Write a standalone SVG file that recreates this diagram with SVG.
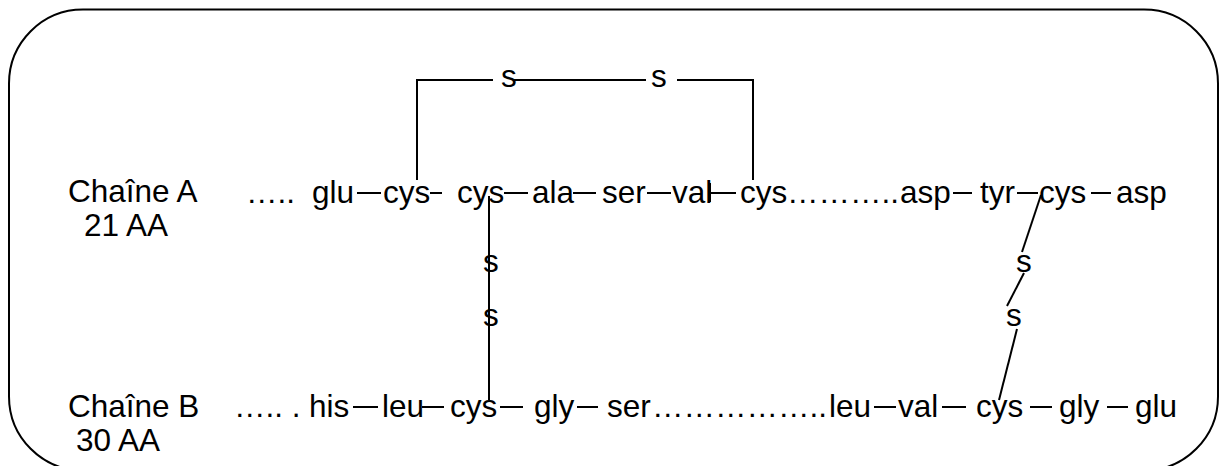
<svg xmlns="http://www.w3.org/2000/svg" width="1221" height="466" viewBox="0 0 1221 466">
  <style>
    text { font-family: "Liberation Sans", Arial, sans-serif; font-size: 31.5px; fill: #000; }
    .frame { fill: #fff; stroke: #000; stroke-width: 2; }
    .bond { stroke: #000; stroke-width: 2; fill: none; }
  </style>
  <rect width="1221" height="466" fill="#fff"/>
  <!-- rounded frame, bottom edge runs past the canvas -->
  <rect class="frame" x="9" y="9.5" width="1209" height="461" rx="74" ry="74"/>

  <!-- chain labels -->
  <g id="label-a"><text x="68" y="202">Chaîne A<tspan x="84" dy="33.5">21 AA</tspan></text></g>
  <g id="label-b"><text x="68" y="417">Chaîne B<tspan x="76" dy="33.5">30 AA</tspan></text></g>

  <!-- chain A residues -->
  <g id="a-start"><text x="246" y="203">…..</text></g>
  <g id="a-glu"><text x="312" y="203">glu</text></g>
  <g id="a-cys1"><text x="383" y="203">cys</text></g>
  <g id="a-cys2"><text x="457" y="203">cys</text></g>
  <g id="a-ala"><text x="532" y="203">ala</text></g>
  <g id="a-ser"><text x="602" y="203">ser</text></g>
  <g id="a-val"><text x="672" y="203">val</text></g>
  <g id="a-cys3"><text x="740" y="203">cys</text></g>
  <g id="a-gap"><text x="787" y="203">………..</text></g>
  <g id="a-asp1"><text x="900" y="203">asp</text></g>
  <g id="a-tyr"><text x="980" y="203">tyr</text></g>
  <g id="a-cys4"><text x="1039" y="203">cys</text></g>
  <g id="a-asp2"><text x="1116" y="203">asp</text></g>

  <!-- chain B residues -->
  <g id="b-start"><text x="234" y="417">….. .</text></g>
  <g id="b-his"><text x="309" y="417">his</text></g>
  <g id="b-leu1"><text x="382" y="417">leu</text></g>
  <g id="b-cys1"><text x="450" y="417">cys</text></g>
  <g id="b-gly1"><text x="534" y="417">gly</text></g>
  <g id="b-ser"><text x="607" y="417">ser</text></g>
  <g id="b-gap"><text x="652" y="417">……………..</text></g>
  <g id="b-leu2"><text x="829" y="417">leu</text></g>
  <g id="b-val"><text x="898" y="417">val</text></g>
  <g id="b-cys2"><text x="976" y="417">cys</text></g>
  <g id="b-gly2"><text x="1059" y="417">gly</text></g>
  <g id="b-glu"><text x="1135" y="417">glu</text></g>

  <!-- sulfur atoms of the disulfide bridges -->
  <g id="s-top1"><text x="501" y="87">s</text></g>
  <g id="s-top2"><text x="651" y="87">s</text></g>
  <g id="s-mid1"><text x="483" y="272">s</text></g>
  <g id="s-mid2"><text x="483" y="326">s</text></g>
  <g id="s-right1"><text x="1016" y="272">s</text></g>
  <g id="s-right2"><text x="1006" y="326">s</text></g>

  <g id="connectors" class="bond">
    <!-- peptide bonds, chain A -->
    <line x1="357" y1="193" x2="381" y2="193"/>
    <line x1="430" y1="193" x2="442" y2="193"/>
    <line x1="504" y1="193" x2="528" y2="193"/>
    <line x1="573" y1="193" x2="596" y2="193"/>
    <line x1="647" y1="193" x2="671" y2="193"/>
    <line x1="710" y1="183" x2="710" y2="202"/>
    <line x1="710" y1="193" x2="736" y2="193"/>
    <line x1="953" y1="193" x2="972" y2="193"/>
    <line x1="1017" y1="193" x2="1038" y2="193"/>
    <line x1="1091" y1="193" x2="1111" y2="193"/>
    <!-- peptide bonds, chain B -->
    <line x1="353" y1="407" x2="378" y2="407"/>
    <line x1="422" y1="407" x2="444" y2="407"/>
    <line x1="500" y1="407" x2="523" y2="407"/>
    <line x1="577" y1="407" x2="598" y2="407"/>
    <line x1="874" y1="407" x2="896" y2="407"/>
    <line x1="942" y1="407" x2="966" y2="407"/>
    <line x1="1030" y1="407" x2="1052" y2="407"/>
    <line x1="1107" y1="407" x2="1128" y2="407"/>
    <!-- intra-chain bridge: A cys6 - A cys11 -->
    <polyline points="417,180 417,80 493,80"/>
    <line x1="514" y1="80" x2="646" y2="80"/>
    <polyline points="677,80 753,80 753,180"/>
    <!-- inter-chain bridge: A cys7 - B cys7 -->
    <line x1="489" y1="196" x2="489" y2="400"/>
    <!-- inter-chain bridge: A cys20 - B cys19 -->
    <line x1="1041" y1="195" x2="1022" y2="252"/>
    <line x1="1024" y1="273" x2="1007" y2="306"/>
    <line x1="1017" y1="329" x2="999" y2="400"/>
  </g>
</svg>
